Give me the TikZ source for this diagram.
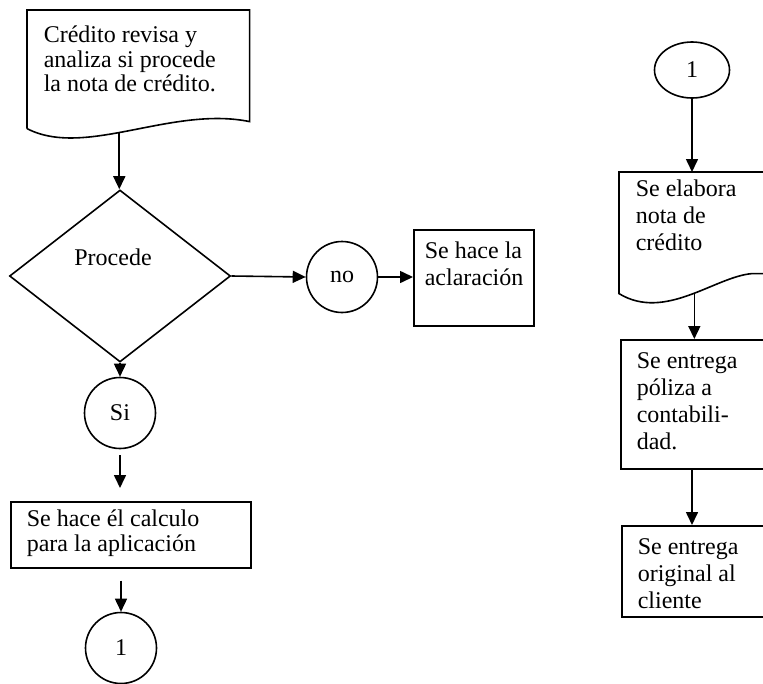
\documentclass[tikz,border=0pt]{standalone}
\usepackage{fontspec}
\setmainfont{Liberation Serif}
\usetikzlibrary{shapes.geometric,arrows.meta,calc}

\newcommand{\boxtxt}[3]{\begin{minipage}[t][#2][t]{#1}\raggedright\strut #3\end{minipage}}

\begin{document}
\begin{tikzpicture}[x=1pt,y=-1pt,>={Triangle[length=13pt,width=12pt]},line width=1.6pt,
    main font/.style={font=\fontsize{24}{27}\selectfont},
    box node/.style={draw,main font,anchor=north west,inner xsep=16pt,inner ysep=10pt},
    doc node/.style={box node,draw=none},
    conn node/.style={circle,draw,main font,minimum size=71pt,inner sep=0pt},
    dec node/.style={diamond,draw,main font,minimum width=221pt,minimum height=172pt,inner sep=0pt}]
    \useasboundingbox (0,0) rectangle (763,683);
    \clip (0,0) rectangle (763,683);

    % left column
    \node[doc node,inner ysep=15pt,font=\fontsize{24}{24.5}\selectfont] (revisa) at (27,10)
        {\boxtxt{189pt}{87pt}{Crédito revisa y\\analiza si procede\\la nota de crédito.}};
    \draw (revisa.south west) -- (revisa.north west) -- (revisa.north east) -- ($(revisa.south east)+(0,-7)$)
        .. controls +(-78,-16) and +(58,30) .. (revisa.south west) coordinate[pos=0.55] (revisaout);

    \node[dec node,label={[main font,xshift=-7pt,yshift=19pt]center:Procede}] (procede) at (120,276) {};
    \node[conn node] (no) at (342,277) {no};
    \node[box node,inner xsep=11pt] (aclara) at (413,229) {\boxtxt{98pt}{76pt}{Se hace la\\aclaración}};
    \node[conn node] (si) at (120,413) {Si};
    \node[box node,inner ysep=7pt,font=\fontsize{24}{25}\selectfont] (calculo) at (10,501)
        {\boxtxt{208pt}{52pt}{Se hace él calculo\\para la aplicación}};
    \node[conn node] (unoizq) at (121,648) {1};

    % right column
    \node[conn node,ellipse,minimum width=75pt,minimum height=56pt] (unoder) at (692,70) {1};
    \node[doc node,inner ysep=5pt] (elabora) at (619,172) {\boxtxt{140pt}{110pt}{Se elabora\\nota de\\crédito}};
    \draw (elabora.north east) -- (elabora.north west) -- (elabora.south west)
        .. controls +(46,28) and +(-37,3) .. ($(elabora.south west)+(133,-20)$) coordinate[pos=0.54] (elaboraout)
        -- ($(elabora.south east)+(0,-20)$);
    \node[box node] (entrega) at (620,339) {\boxtxt{140pt}{109pt}{Se entrega\\póliza a\\contabili-\\dad.}};
    \node[box node] (original) at (621,525) {\boxtxt{140pt}{71pt}{Se entrega\\original al\\cliente}};

    \path[->]
        (revisaout) edge (revisaout |- procede.north)
        (procede.east) edge (no.west)
        (no.east) edge (aclara.west |- no.east)
        (procede.south) edge (si.north)
        (si.south) edge[shorten <=6pt,shorten >=13pt] (si.south |- calculo.north)
        (calculo.south -| unoizq) edge[shorten <=12pt] (unoizq.north)

        (unoder.south) edge (unoder.south |- elabora.north)
        (elaboraout) edge (elaboraout |- entrega.north)
        (unoder.south |- entrega.south) edge (unoder.south |- original.north)
    ;
\end{tikzpicture}
\end{document}
